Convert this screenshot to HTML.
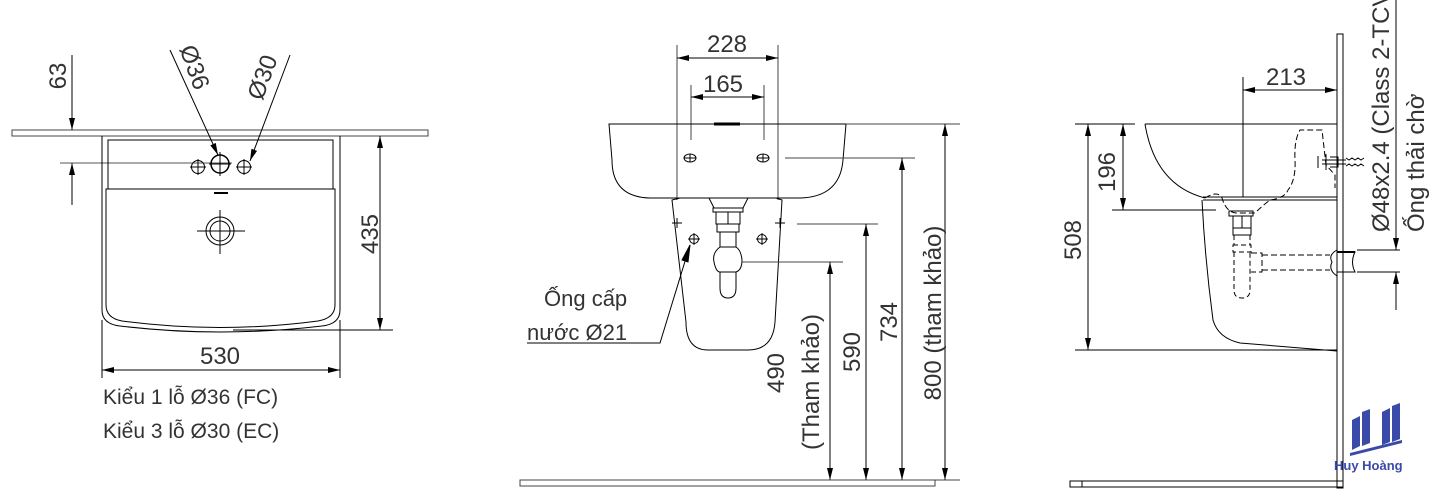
<!DOCTYPE html>
<html><head><meta charset="utf-8"><style>
html,body{margin:0;padding:0;background:#fff;width:1440px;height:504px;overflow:hidden}
svg{display:block}
text{font-family:"Liberation Sans",sans-serif;fill:#333;font-size:24px}
</style></head><body>
<svg width="1440" height="504" viewBox="0 0 1440 504" xmlns="http://www.w3.org/2000/svg">
<defs>
<marker id="a" viewBox="0 0 10 10" refX="10" refY="5" markerWidth="12" markerHeight="12" markerUnits="userSpaceOnUse" orient="auto-start-reverse"><path d="M0,2.5 L10,5 L0,7.5z" fill="#000"/></marker>
</defs>
<g stroke="#000" stroke-width="1" fill="none">
<rect x="12" y="130" width="416" height="6" stroke="#444"/>
<line x1="72" y1="55" x2="72" y2="130" marker-end="url(#a)"/>
<line x1="72" y1="205" x2="72" y2="163" marker-end="url(#a)"/>
<line x1="60" y1="163" x2="232" y2="163" stroke="#555"/>
<path d="M102,136 V310 Q102,324 120,326 Q220,338 322,326 Q340,324 340,310 V136"/>
<rect x="108" y="140" width="225" height="49"/>
<path d="M106,189 H335 V305 Q335,318 318,321 Q220,334 122,321 Q106,318 106,305 Z"/>
<circle cx="220" cy="164" r="9" stroke-width="1.5"/>
<circle cx="198" cy="167" r="6.5"/>
<circle cx="244" cy="167" r="6.5"/>
<path d="M190,167h16M198,159v16M236,167h16M244,159v16M209,164h22M220,152v24"/>
<line x1="214" y1="193" x2="228" y2="193" stroke-width="2"/>
<circle cx="220" cy="231" r="14"/><circle cx="220" cy="231" r="10"/>
<path d="M197,231h48M220,210v44"/>
<line x1="170" y1="50" x2="218" y2="155" marker-end="url(#a)"/>
<line x1="290" y1="55" x2="250" y2="161" marker-end="url(#a)"/>
<line x1="380" y1="136" x2="380" y2="330" marker-start="url(#a)" marker-end="url(#a)"/>
<line x1="233" y1="330" x2="393" y2="330"/>
<line x1="102" y1="320" x2="102" y2="378"/>
<line x1="340" y1="320" x2="340" y2="378"/>
<line x1="102" y1="370" x2="340" y2="370" marker-start="url(#a)" marker-end="url(#a)"/>

<line x1="677" y1="45" x2="677" y2="200" stroke="#444"/>
<line x1="778" y1="45" x2="778" y2="200" stroke="#444"/>
<line x1="677" y1="58" x2="778" y2="58" marker-start="url(#a)" marker-end="url(#a)"/>
<line x1="691" y1="85" x2="691" y2="140" stroke="#444"/>
<line x1="764" y1="85" x2="764" y2="140" stroke="#444"/>
<line x1="691" y1="97" x2="764" y2="97" marker-start="url(#a)" marker-end="url(#a)"/>
<path d="M609,124 H846 L843,160 Q840,197 800,198 H650 Q612,197 612,160 Z"/>
<line x1="846" y1="124" x2="960" y2="124" stroke="#444"/>
<line x1="714" y1="124" x2="740" y2="124" stroke-width="3"/>
<ellipse cx="690" cy="158" rx="6" ry="4"/><ellipse cx="763" cy="158" rx="6" ry="4"/>
<path d="M684,158h12M690,154v8M757,158h12M763,154v8"/>
<line x1="785" y1="158" x2="915" y2="158" stroke="#444"/>
<path d="M680,198 H776 L782,200 L775,322 Q773,350 748,350 H708 Q686,350 686,322 L672,200 Z"/>
<path d="M709,198 L714,208 H743 L748,198"/>
<rect x="713" y="208" width="30" height="4"/>
<rect x="716" y="212" width="24" height="12"/><line x1="728" y1="212" x2="728" y2="224"/>
<rect x="717" y="224" width="22" height="8"/>
<path d="M720,232 V247 M736,232 V247"/>
<path d="M720,247 Q712,253 714,262 Q716,272 720,272 H736 Q742,270 742,260 Q741,250 736,247 Z"/>
<path d="M720,272 V288 Q720,298 728,298 Q736,298 736,288 V272"/>
<circle cx="694" cy="239" r="4.5"/><circle cx="762" cy="239" r="4.5"/>
<path d="M688,239h12M694,233v12M756,239h12M762,233v12M672,223h10M677,218v10M775,223h10M780,218v10"/>
<line x1="797" y1="224" x2="878" y2="224" stroke="#444"/>
<line x1="742" y1="262" x2="843" y2="262" stroke="#444"/>
<line x1="830" y1="480" x2="830" y2="262" marker-start="url(#a)" marker-end="url(#a)"/>
<line x1="866" y1="480" x2="866" y2="224" marker-start="url(#a)" marker-end="url(#a)"/>
<line x1="902" y1="480" x2="902" y2="158" marker-start="url(#a)" marker-end="url(#a)"/>
<line x1="945" y1="480" x2="945" y2="124" marker-start="url(#a)" marker-end="url(#a)"/>
<line x1="520" y1="480" x2="960" y2="480" stroke="#444"/>
<rect x="520" y="480" width="415" height="6" stroke="#444"/>
<path d="M527,343 H660 L690,245" />
<path d="M690,245 l-8,15 l6,2z" fill="#000"/>

<rect x="1337" y="34" width="6" height="454"/>
<rect x="1070" y="481" width="273" height="6"/>
<line x1="1082" y1="481" x2="1082" y2="487"/>
<line x1="1243" y1="77" x2="1243" y2="197"/>
<line x1="1243" y1="90" x2="1337" y2="90" marker-start="url(#a)" marker-end="url(#a)"/>
<path d="M1145,124 H1337 M1145,124 Q1155,185 1205,198"/>
<line x1="1203" y1="197" x2="1337" y2="197"/>
<line x1="1203" y1="200" x2="1337" y2="200"/>
<path d="M1205,198 Q1218,190 1222,198 Q1226,212 1236,213 H1255 Q1262,206 1270,200 Q1285,198 1288,190 Q1296,180 1295,160 Q1294,140 1300,130 H1322 L1326,165 L1335,175 V188" stroke-dasharray="6,3"/>
<path d="M1202,200 Q1205,260 1213,320 Q1218,338 1240,343 L1337,351"/>
<line x1="1123" y1="124" x2="1123" y2="210" marker-start="url(#a)" marker-end="url(#a)"/>
<line x1="1088" y1="124" x2="1088" y2="350" marker-start="url(#a)" marker-end="url(#a)"/>
<line x1="1075" y1="124" x2="1135" y2="124"/>
<line x1="1112" y1="210" x2="1216" y2="210"/>
<line x1="1075" y1="350" x2="1337" y2="350"/>
<rect x="1229" y="211" width="24" height="5"/>
<path d="M1233,216 V228 H1251 V216 M1242,216 V228 M1233,228 H1251 V235 H1233 Z"/>
<path d="M1234,235 V245 M1250,235 V245 M1233,245 H1251 V252 H1233 Z M1234,252 V290 Q1234,298 1242,298 Q1250,298 1250,290 V252" stroke-dasharray="5,3"/>
<path d="M1251,253 H1262 V272 H1251 M1262,255 H1330 M1262,270 H1330" stroke-dasharray="6,3"/>
<path d="M1337,250 Q1328,255 1332,262 Q1328,270 1337,276"/>
<path d="M1337,252 H1355 Q1350,262 1355,272 H1337" />
<line x1="1337" y1="252" x2="1355" y2="252" stroke-width="2"/>
<path d="M1322,160 h24 M1322,164 h24 M1318,156 v12 M1326,154 v16 M1330,157 h8 v10 h-8"/>
<path d="M1346,158 l3,2 3,-2 3,2 3,-2 3,2 3,-2 M1346,166 l3,-2 3,2 3,-2 3,2 3,-2 3,2"/>
<line x1="1357" y1="250" x2="1400" y2="250"/>
<line x1="1357" y1="272" x2="1400" y2="272"/>
<line x1="1396" y1="0" x2="1396" y2="250" marker-end="url(#a)"/>
<line x1="1396" y1="310" x2="1396" y2="272" marker-end="url(#a)"/>
</g>

<g fill="#3a4aa8">
<path d="M1352,420 l8,-4 v30 l-8,4z"/>
<path d="M1362,412 l8,-3 v34 l-8,3z"/>
<path d="M1382,412 l8,-4 v34 l-8,3z"/>
<path d="M1392,406 l8,-3 v36 l-8,3z"/>
<path d="M1350,453 L1402,440 v3 L1350,456z"/>
</g>
<text x="1334" y="470" style="font-size:13px;fill:#3a4aa8;font-weight:bold">Huy Hoàng</text>

<text transform="translate(66,76) rotate(-90)" text-anchor="middle">63</text>
<text transform="translate(187,70) rotate(70)" text-anchor="middle">Ø36</text>
<text transform="translate(270,80) rotate(-70)" text-anchor="middle">Ø30</text>
<text transform="translate(378,234) rotate(-90)" text-anchor="middle">435</text>
<text x="220" y="364" text-anchor="middle">530</text>
<text x="103" y="404" style="font-size:21px">Kiểu 1 lỗ Ø36 (FC)</text>
<text x="103" y="438" style="font-size:21px">Kiểu 3 lỗ Ø30 (EC)</text>

<text x="727" y="52" text-anchor="middle">228</text>
<text x="723" y="92" text-anchor="middle">165</text>
<text x="544" y="306" style="font-size:22px">Ống cấp</text>
<text x="527" y="340" style="font-size:22px">nước Ø21</text>
<text transform="translate(784,373) rotate(-90)" text-anchor="middle">490</text>
<text transform="translate(819,382) rotate(-90)" text-anchor="middle">(Tham khảo)</text>
<text transform="translate(860,352) rotate(-90)" text-anchor="middle">590</text>
<text transform="translate(897,322) rotate(-90)" text-anchor="middle">734</text>
<text transform="translate(941,313) rotate(-90)" text-anchor="middle">800 (tham khảo)</text>

<text x="1286" y="85" text-anchor="middle">213</text>
<text transform="translate(1115,172) rotate(-90)" text-anchor="middle">196</text>
<text transform="translate(1081,240) rotate(-90)" text-anchor="middle">508</text>
<text transform="translate(1389,232) rotate(-90)">Ø48x2.4 (Class 2-TCVN</text>
<text transform="translate(1424,232) rotate(-90)">Ống thải chờ</text>
</svg>
</body></html>
